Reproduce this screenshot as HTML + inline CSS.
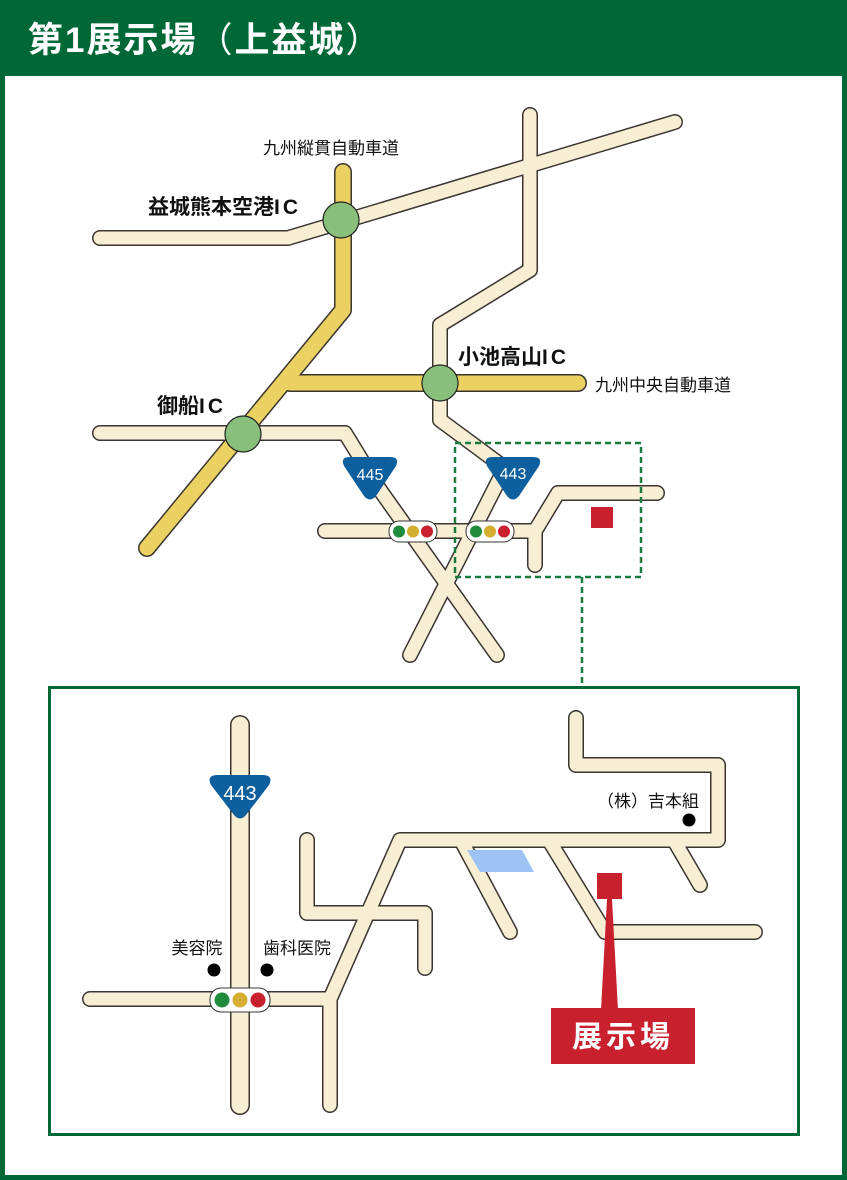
<!DOCTYPE html>
<html><head><meta charset="utf-8"><style>
html,body{margin:0;padding:0;background:#fff}
svg{display:block}
text{font-family:"Liberation Sans","Noto Sans CJK JP",sans-serif}
.o{fill:none;stroke:#3a3530;stroke-linecap:round;stroke-linejoin:round}
.f{fill:none;stroke:#f8eed4;stroke-linecap:round;stroke-linejoin:round}
.yo{fill:none;stroke:#3a3530;stroke-linecap:round;stroke-linejoin:round}
.yf{fill:none;stroke:#ead162;stroke-linecap:round;stroke-linejoin:round}
</style></head><body>
<svg width="847" height="1180" viewBox="0 0 847 1180" xmlns="http://www.w3.org/2000/svg">
<rect x="0" y="0" width="847" height="1180" fill="#006837"/>
<rect x="5" y="76" width="837" height="1099" fill="#fff"/>
<text x="28" y="52" font-size="35" font-weight="bold" fill="#fff" letter-spacing="2">第1展示場<tspan font-weight="normal">（</tspan>上益城<tspan font-weight="normal">）</tspan></text>

<g class="o" stroke-width="16">
<path d="M100,238 L288,238 L675,122"/>
<path d="M530,115 L530,270 L440,325 L440,420 L505,468 L410,655"/>
<path d="M100,433 L345,433 L380,490 L497,655"/>
<path d="M325,531 L535,531 L558,493 L657,493 M535,531 L535,565"/>
</g>
<g class="yo" stroke-width="18">
<path d="M343,172 L343,310 L147,548"/>
<path d="M290,383 L578,383"/>
</g>
<g class="f" stroke-width="13">
<path d="M100,238 L288,238 L675,122"/>
<path d="M530,115 L530,270 L440,325 L440,420 L505,468 L410,655"/>
<path d="M100,433 L345,433 L380,490 L497,655"/>
<path d="M325,531 L535,531 L558,493 L657,493 M535,531 L535,565"/>
</g>
<g class="yf" stroke-width="15">
<path d="M343,172 L343,310 L147,548"/>
<path d="M290,383 L578,383"/>
</g>
<g fill="#88bf7a" stroke="#222" stroke-width="1.2">
<circle cx="341" cy="220" r="18"/>
<circle cx="440" cy="383" r="18"/>
<circle cx="243" cy="434" r="18"/>
</g>
<g fill="#0e5f9e">
<path d="M350,457 L390,457 Q400,457 396,466 L376,496 Q370,503 364,496 L344,466 Q340,457 350,457 Z"/>
<path d="M493,457 L533,457 Q543,457 539,466 L519,496 Q513,503 507,496 L487,466 Q483,457 493,457 Z"/>
</g>
<text x="370" y="480" font-size="16" fill="#fff" text-anchor="middle">445</text>
<text x="513" y="479" font-size="16" fill="#fff" text-anchor="middle">443</text>
<g>
<rect x="389" y="521" width="48" height="21" rx="10" fill="#fff" stroke="#333" stroke-width="1"/>
<circle cx="399" cy="531.5" r="6" fill="#1f8c3b"/><circle cx="413" cy="531.5" r="6" fill="#d4ae2e"/><circle cx="427" cy="531.5" r="6" fill="#c8202c"/>
<rect x="466" y="521" width="48" height="21" rx="10" fill="#fff" stroke="#333" stroke-width="1"/>
<circle cx="476" cy="531.5" r="6" fill="#1f8c3b"/><circle cx="490" cy="531.5" r="6" fill="#d4ae2e"/><circle cx="504" cy="531.5" r="6" fill="#c8202c"/>
</g>
<rect x="591" y="507" width="22" height="21" fill="#c8202c"/>
<rect x="455" y="443" width="186" height="134" fill="none" stroke="#1b7a3e" stroke-width="2.5" stroke-dasharray="6,4"/>
<line x1="582" y1="577" x2="582" y2="686" stroke="#1b7a3e" stroke-width="2.5" stroke-dasharray="6,4"/>
<text x="263" y="154" font-size="17" fill="#111">九州縦貫自動車道</text>
<text x="148" y="214" font-size="21" font-weight="bold" fill="#111">益城熊本空港<tspan letter-spacing="3">IC</tspan></text>
<text x="458" y="364" font-size="21" font-weight="bold" fill="#111">小池高山<tspan letter-spacing="3">IC</tspan></text>
<text x="595" y="391" font-size="17" fill="#111">九州中央自動車道</text>
<text x="157" y="413" font-size="21" font-weight="bold" fill="#111">御船<tspan letter-spacing="3">IC</tspan></text>

<rect x="49.5" y="687.5" width="749" height="447" fill="#fff" stroke="#006837" stroke-width="3"/>
<g class="o" stroke-width="16">
<path d="M90,999 L330,999 L400,840 L718,840 L718,765 L576,765 L576,718 M330,999 L330,1105"/>
<path d="M307,840 L307,913 L425,913 L425,968"/>
<path d="M462,842 L510,932 M550,842 L605,932 L755,932 M675,842 L700,885"/>
</g>
<g class="o" stroke-width="20"><path d="M240,725 L240,1105"/></g>
<g class="f" stroke-width="13">
<path d="M90,999 L330,999 L400,840 L718,840 L718,765 L576,765 L576,718 M330,999 L330,1105"/>
<path d="M307,840 L307,913 L425,913 L425,968"/>
<path d="M462,842 L510,932 M550,842 L605,932 L755,932 M675,842 L700,885"/>
</g>
<g class="f" stroke-width="17"><path d="M240,725 L240,1105"/></g>
<polygon points="467,850 522,850 534,872 480,872" fill="#9dc3f5"/>
<path d="M218,775 L262,775 Q274,775 269,785 L246,815 Q240,822 234,815 L211,785 Q206,775 218,775 Z" fill="#0e5f9e"/>
<text x="240" y="800" font-size="20" fill="#fff" text-anchor="middle">443</text>
<rect x="210" y="988" width="60" height="24" rx="11" fill="#fff" stroke="#333" stroke-width="1"/>
<circle cx="222" cy="1000" r="7.5" fill="#1f8c3b"/><circle cx="240" cy="1000" r="7.5" fill="#d4ae2e"/><circle cx="258" cy="1000" r="7.5" fill="#c8202c"/>
<circle cx="214" cy="970" r="6.5" fill="#000"/>
<circle cx="267" cy="970" r="6.5" fill="#000"/>
<circle cx="689" cy="820" r="6.5" fill="#000"/>
<text x="197" y="954" font-size="17" fill="#111" text-anchor="middle">美容院</text>
<text x="297" y="954" font-size="17" fill="#111" text-anchor="middle">歯科医院</text>
<text x="648" y="807" font-size="17" fill="#111" text-anchor="middle">（株）吉本組</text>
<rect x="597" y="873" width="25" height="26" fill="#c8202c"/>
<polygon points="607,899 612,899 618,1010 601,1010" fill="#c8202c"/>
<rect x="551" y="1008" width="144" height="56" fill="#c8202c"/>
<text x="623" y="1047" font-size="30" font-weight="bold" fill="#fff" text-anchor="middle" letter-spacing="4">展示場</text>
</svg>
</body></html>
